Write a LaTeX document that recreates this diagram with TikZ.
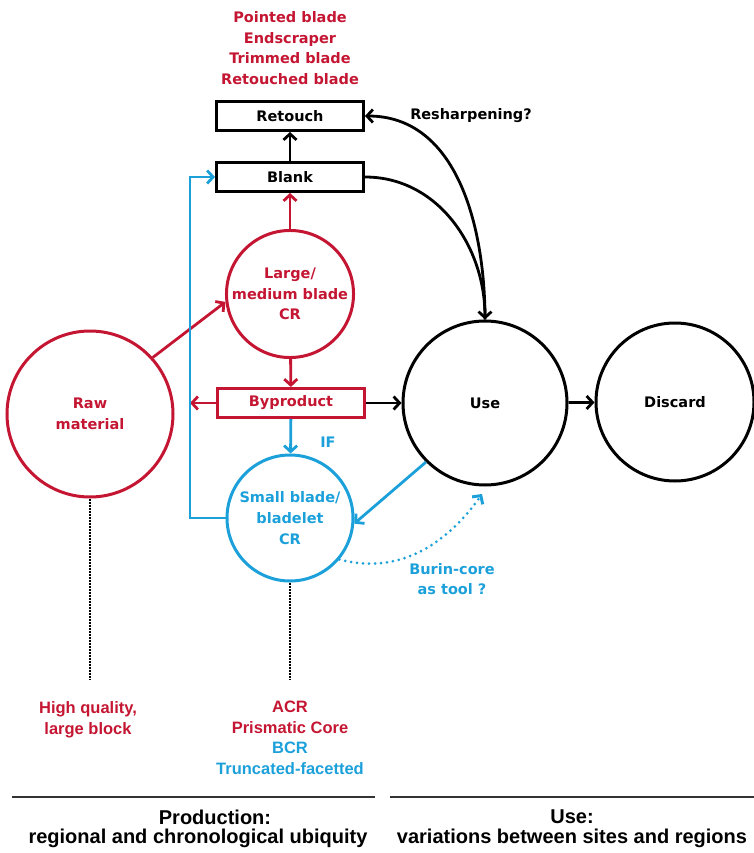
\documentclass[tikz,border=0pt]{standalone}
\usepackage{fontspec}
\setmainfont{DejaVu Sans}
\newfontfamily\narrowfont{Liberation Sans}
\usetikzlibrary{arrows.meta}
\definecolor{stonered}{RGB}{196,22,50}
\definecolor{stoneblue}{RGB}{28,160,218}

\begin{document}
\begin{tikzpicture}[x=1pt,y=1pt,
    txt/.style={align=center,inner sep=0pt,font=\fontsize{14.5}{20.7}\selectfont\bfseries},
    note/.style={align=center,inner sep=0pt,font=\narrowfont\fontsize{16.5}{20.5}\selectfont\bfseries},
    head/.style={inner sep=0pt,font=\narrowfont\fontsize{20}{24}\selectfont\bfseries},
    box/.style={txt,draw,line width=3pt,minimum width=147pt,minimum height=29pt},
    blob/.style={txt,circle,draw,line width=3pt},
    arr/.style={line width=2.8pt,-{Straight Barb[length=6pt,width=13pt]}},
    dotline/.style={line width=3pt,line cap=round,dash pattern=on 0pt off 6pt},
    dots/.style={line width=2pt,densely dotted},
    rule/.style={line width=2pt,black!80}]
    \useasboundingbox (0,0) rectangle (754,-853);
    \node[txt,stonered] (tools) at (290,-48) {Pointed blade\\Endscraper\\Trimmed blade\\Retouched blade};
    \node[box] (retouch) at (290,-116) {Retouch};
    \node[box] (blank) at (290,-177) {Blank};
    \node[txt] (resharp) at (471,-116) {Resharpening?};
    \node[blob,stonered,minimum size=124pt] (large) at (290,-294) {Large/\\medium blade\\CR};
    \node[blob,stonered,minimum size=166pt] (raw) at (90,-414) {Raw\\material};
    \node[box,stonered] (byp) at (291,-403) {Byproduct};
    \node[blob,minimum size=164pt] (use) at (485,-403) {Use};
    \node[blob,minimum size=158pt] (discard) at (675,-402) {Discard};
    \node[txt,stoneblue] (if) at (328,-442) {IF};
    \node[blob,stoneblue,minimum size=126pt] (small) at (290,-518) {Small blade/\\bladelet\\CR};
    \node[txt,stoneblue] (burin) at (452,-579) {Burin-core\\as tool ?};
    \node[note,stonered] (quality) at (88,-720) {High quality,\\large block};
    \node[note,stonered] (cores) at (290,-738) {ACR\\Prismatic Core\\\textcolor{stoneblue}{BCR}\\\textcolor{stoneblue}{Truncated-facetted}};
    \node[head] (prod) at (215,-817) {Production:};
    \node[head] (prodnote) at (198,-838) {regional and chronological ubiquity};
    \node[head] (usehead) at (572,-817) {Use:};
    \node[head] (usenote) at (572,-838) {variations between sites and regions};
    \coordinate (spine) at (190,-177);
    \coordinate (tooltip) at (482,-494);
    \coordinate (rawfoot) at (90,-680);
    \coordinate (smallfoot) at (290,-680);
    \draw[arr] (blank) -- (retouch);
    \draw[arr,stonered] (large) -- (blank);
    \draw[arr,stonered] (raw.42) -- (large.187);
    \draw[arr,stonered] (large) -- (byp);
    \draw[arr,stonered] (byp) -- (byp -| spine);
    \draw[arr,stoneblue] (small.west) -| (spine) -- (blank.west);
    \draw[arr,stoneblue] (byp) -- (small);
    \draw[arr] (byp) -- (use);
    \draw[arr] (use) -- (discard);
    \draw[arr] (blank.east) to[out=0,in=90] (use.north);
    \draw[arr] (use.north) to[out=90,in=0] (retouch.east);
    \draw[arr,stoneblue] (use.225) -- (small.-5);
    \draw[arr,stoneblue,dotline] (small.-40) to[out=-15,in=235] (tooltip);
    \draw[dots] (raw.south) -- (rawfoot);
    \draw[dots] (small.south) -- (smallfoot);
    \draw[rule] (12,-797) -- (375,-797);
    \draw[rule] (390,-797) -- (754,-797);
\end{tikzpicture}
\end{document}
